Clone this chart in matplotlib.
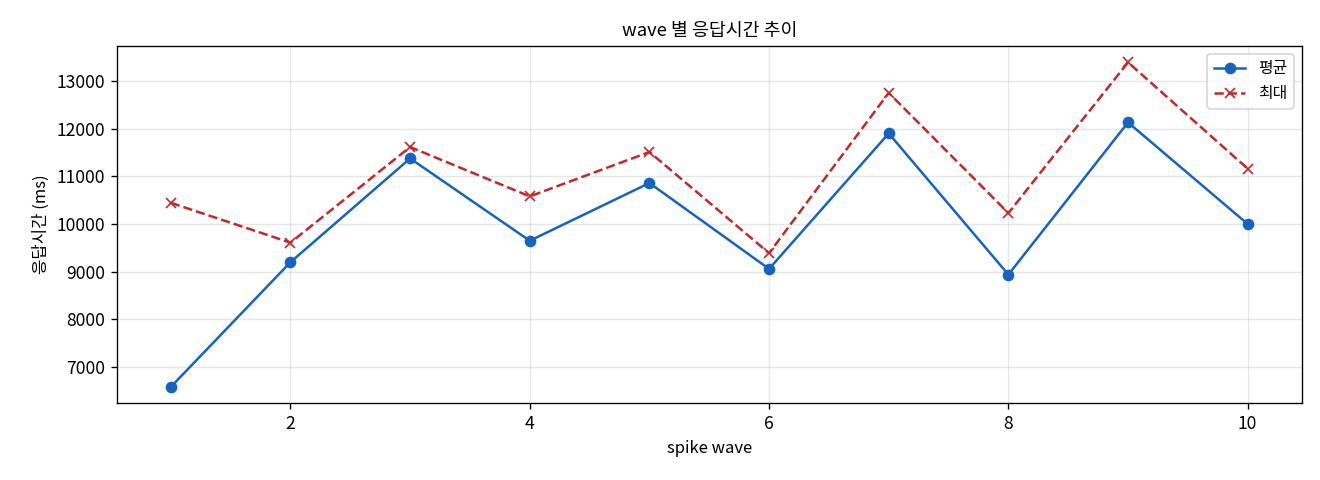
import matplotlib
matplotlib.use("Agg")
import matplotlib.pyplot as plt

plt.rcParams['font.family'] = ['Noto Sans CJK KR', 'DejaVu Sans']
plt.rcParams['axes.unicode_minus'] = False

waves = [1, 2, 3, 4, 5, 6, 7, 8, 9, 10]
avg_ms = [6585, 9200, 11375, 9650, 10860, 9060, 11900, 8940, 12130, 10000]
max_ms = [10445, 9610, 11615, 10580, 11510, 9390, 12750, 10230, 13390, 11160]

fig, ax = plt.subplots(figsize=(11, 4), dpi=120)
ax.plot(waves, avg_ms, marker="o", color="#1565C0", linewidth=1.5, markersize=6, label="평균")
ax.plot(waves, max_ms, marker="x", linestyle="--", color="#C62828", linewidth=1.5, markersize=6, label="최대")

ax.set_title("wave 별 응답시간 추이", fontsize=11)
ax.set_xlabel("spike wave", fontsize=10)
ax.set_ylabel("응답시간 (ms)", fontsize=10)
ax.tick_params(labelsize=10.5)
ax.grid(True, alpha=0.3)
ax.legend(loc="upper right", fontsize=9.5)

fig.subplots_adjust(left=0.0886, right=0.986, top=0.904, bottom=0.160)
fig.savefig("out.png", dpi=120)
plt.close(fig)
